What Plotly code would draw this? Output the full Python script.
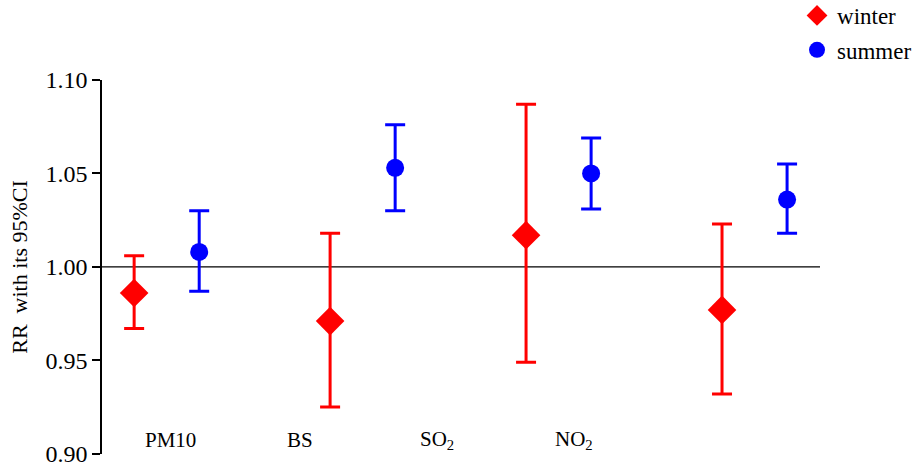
import plotly.graph_objects as go

categories = ["PM10", "BS", "SO<sub>2</sub>", "NO<sub>2</sub>"]
winter_rr = [0.986, 0.971, 1.017, 0.977]
winter_lo = [0.967, 0.925, 0.949, 0.932]
winter_hi = [1.006, 1.018, 1.087, 1.023]
summer_rr = [1.008, 1.053, 1.050, 1.036]
summer_lo = [0.987, 1.030, 1.031, 1.018]
summer_hi = [1.030, 1.076, 1.069, 1.055]
y_ticks = [0.90, 0.95, 1.00, 1.05, 1.10]

offset = 0.166
xw = [i - offset for i in range(len(categories))]
xs = [i + offset for i in range(len(categories))]
label_x = [0.02, 0.68, 1.38, 2.08]

FONT = "Liberation Serif, 'Times New Roman', Times, serif"

fig = go.Figure()
fig.add_trace(go.Scatter(
    x=xw, y=winter_rr, mode="markers", name="winter", legendgroup="w",
    marker=dict(symbol="diamond", size=22, color="#ff0000"),
    error_y=dict(type="data", symmetric=False,
                 array=[h - r for h, r in zip(winter_hi, winter_rr)],
                 arrayminus=[r - l for r, l in zip(winter_rr, winter_lo)],
                 color="#ff0000", thickness=3, width=10),
))
fig.add_trace(go.Scatter(
    x=xs, y=summer_rr, mode="markers", name="summer", legendgroup="s",
    marker=dict(symbol="circle", size=18, color="#0000ff"),
    error_y=dict(type="data", symmetric=False,
                 array=[h - r for h, r in zip(summer_hi, summer_rr)],
                 arrayminus=[r - l for r, l in zip(summer_rr, summer_lo)],
                 color="#0000ff", thickness=3, width=10),
))

fig.add_shape(type="line", xref="paper", yref="y", x0=0, x1=1, y0=1.0, y1=1.0,
              line=dict(color="black", width=1.3), layer="below")

for lx, cat in zip(label_x, categories):
    fig.add_annotation(x=lx, y=0.9075, xref="x", yref="y", text=cat,
                       showarrow=False, font=dict(family=FONT, size=21, color="black"))

fig.update_layout(
    width=917, height=465,
    margin=dict(l=102, r=97, t=80, b=11, autoexpand=False),
    plot_bgcolor="white", paper_bgcolor="white",
    font=dict(family=FONT, size=20, color="black"),
    showlegend=True,
    legend=dict(x=0.968, y=1.23, xanchor="left", yanchor="top",
                font=dict(family=FONT, size=23, color="black"),
                traceorder="grouped", tracegroupgap=1.5,
                bgcolor="rgba(0,0,0,0)"),
    xaxis=dict(range=[-0.33, 3.334], showgrid=False, zeroline=False,
               showline=False, showticklabels=False, ticks=""),
    yaxis=dict(range=[0.8999, 1.10], tickvals=y_ticks,
               ticktext=[f"{v:.2f}" for v in y_ticks],
               ticklabeloverflow="allow",
               showgrid=False, zeroline=False, showline=True,
               linecolor="black", linewidth=1.5, ticks="outside",
               ticklen=8, tickwidth=1.5, tickcolor="black",
               tickfont=dict(family=FONT, size=24, color="black"),
               title=dict(text="RR  with its 95%CI",
                          font=dict(family=FONT, size=22, color="black"),
                          standoff=12)),
)

fig.write_html("out.html")
